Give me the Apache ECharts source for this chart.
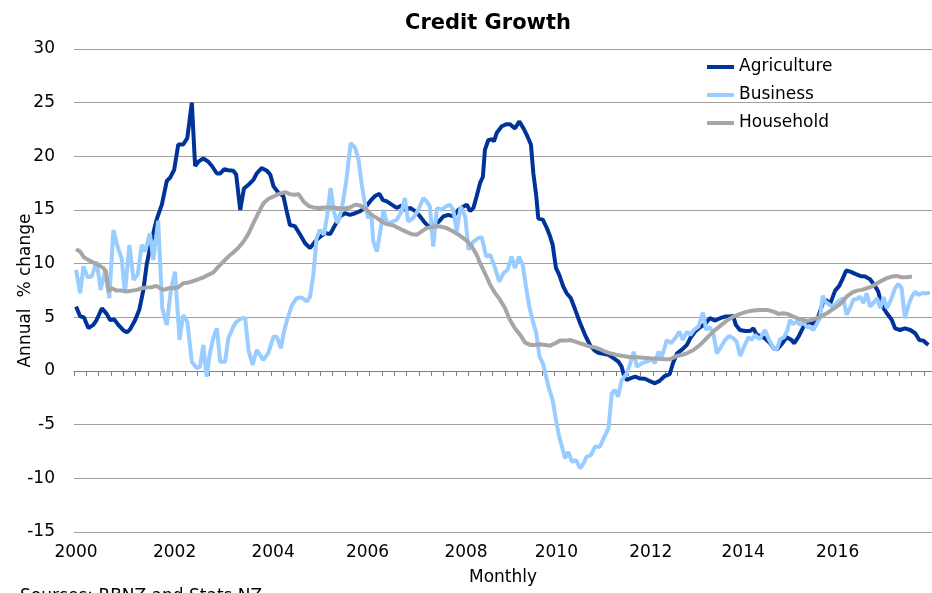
<!DOCTYPE html>
<html>
<head>
<meta charset="utf-8">
<script src="https://cdn.jsdelivr.net/npm/echarts@6/dist/echarts.min.js"></script>
<style>
html,body{margin:0;padding:0;background:#fff;}
#chart{width:932px;height:593px;}
</style>
</head>
<body>
<div id="chart"></div>
<script>
// x = months since Jan 2000 (0 = Jan 2000), y = annual % change
const yearLabels = [
  [0, '2000'], [24, '2002'], [48, '2004'], [71, '2006'], [95, '2008'],
  [117, '2010'], [140, '2012'], [162.5, '2014'], [185.5, '2016']
];
const seriesNames = ['Agriculture', 'Business', 'Household'];

const agriculture = [
[0,6.0],[1,5.1],[1.9,5.0],[3,4.0],[4.2,4.3],[5,4.75],[6.3,5.85],[7.5,5.3],[8.3,4.75],[9.3,4.8],[10.3,4.3],[11.5,3.8],[12.4,3.6],[13.2,3.9],[14.4,4.75],[15.4,5.7],[16.4,7.55],[17.2,9.9],[18.4,12.2],[19.7,14.2],[20.9,15.5],[22.1,17.7],[22.9,18.0],[23.9,18.75],[24.9,21.1],[26.1,21.1],[27.1,21.7],[28.2,25.0],[29.0,19.1],[29.8,19.5],[31.0,19.8],[32.2,19.5],[33.1,19.1],[34.3,18.4],[35.1,18.4],[36.1,18.8],[37.1,18.7],[38.3,18.65],[39.0,18.3],[40.0,15.0],[40.9,17.0],[42.0,17.35],[43.2,17.8],[44.0,18.4],[45.2,18.9],[46.5,18.65],[47.3,18.3],[48.1,17.2],[49.3,16.6],[50.5,16.3],[51.3,14.9],[52.1,13.6],[53.3,13.5],[54.6,12.7],[55.8,11.9],[57.0,11.45],[58.2,12.05],[59.4,12.5],[60.7,12.85],[61.9,12.75],[63.1,13.6],[64.3,14.4],[65.5,14.7],[66.7,14.55],[68.0,14.7],[69.2,14.9],[70.4,15.2],[71.6,15.8],[72.8,16.3],[73.9,16.5],[74.7,15.95],[75.7,15.8],[76.9,15.5],[78.1,15.2],[79.3,15.4],[80.1,15.0],[81.4,15.2],[82.6,14.9],[83.8,14.4],[85.0,13.8],[85.8,13.5],[87.0,13.6],[88.3,13.9],[89.5,14.4],[90.7,14.55],[91.9,14.4],[93.1,15.0],[94.3,15.3],[95.2,15.5],[96.0,14.9],[96.8,15.2],[97.6,16.3],[98.4,17.5],[99.1,18.1],[99.6,20.6],[100.4,21.5],[101.3,21.6],[101.8,21.4],[102.5,22.2],[103.7,22.8],[104.9,23.0],[105.7,23.0],[106.9,22.6],[108.0,23.25],[109.0,22.6],[109.9,21.9],[110.8,21.1],[111.4,18.4],[112.1,16.3],[112.6,14.2],[113.7,14.1],[114.7,13.3],[115.5,12.5],[116.1,11.75],[116.9,9.6],[117.7,8.95],[118.7,7.85],[119.5,7.25],[120.5,6.8],[121.6,5.7],[122.8,4.45],[124.0,3.35],[125.2,2.4],[126.2,1.95],[127.2,1.7],[128.5,1.6],[129.7,1.5],[130.9,1.2],[132.1,0.87],[132.9,0.4],[133.5,-0.47],[134.2,-0.84],[135.0,-0.68],[136.2,-0.53],[137.4,-0.7],[138.6,-0.72],[139.8,-0.95],[141.0,-1.15],[142.2,-0.9],[143.4,-0.47],[144.6,-0.3],[145.4,0.72],[146.4,1.65],[147.5,1.96],[148.8,2.43],[149.6,3.05],[150.8,3.67],[152.0,4.08],[153.2,4.38],[154.4,4.92],[155.7,4.7],[156.9,4.92],[158.1,5.07],[159.3,5.07],[160.1,5.13],[160.7,4.3],[161.7,3.82],[163.0,3.73],[164.2,3.73],[165.0,3.98],[165.8,3.36],[166.8,3.26],[167.8,3.05],[169.1,2.58],[169.9,2.12],[170.8,2.02],[171.9,2.52],[173.1,3.14],[174.3,2.89],[174.9,2.58],[176.0,3.2],[177.2,4.13],[178.4,4.6],[179.6,4.38],[180.8,5.07],[181.9,6.32],[182.7,6.62],[183.7,6.25],[184.9,7.49],[185.9,7.93],[186.8,8.65],[187.6,9.36],[188.6,9.26],[189.8,9.05],[191.0,8.86],[192.2,8.8],[193.4,8.55],[194.6,7.93],[195.4,7.4],[196.2,6.16],[197.5,5.38],[198.7,4.76],[199.5,3.98],[200.7,3.82],[201.9,3.98],[203.2,3.82],[204.4,3.52],[205.4,2.89],[206.4,2.83],[207.6,2.43]
];

const business = [
[0,9.42],[1.0,7.25],[1.8,9.73],[2.8,8.74],[3.8,8.8],[5.0,10.2],[6.0,7.56],[7.1,9.42],[8.1,6.78],[9.1,13.15],[10.1,11.6],[11.1,10.5],[11.9,7.25],[13.0,11.75],[14.0,8.49],[15.0,8.96],[16.0,11.75],[16.8,11.13],[18.0,12.84],[18.8,10.35],[20.0,14.0],[21.0,5.85],[22.1,4.29],[23.1,7.56],[24.1,9.26],[25.2,2.89],[26.1,5.22],[27.1,4.6],[28.2,0.87],[29.4,0.25],[30.2,0.4],[31.0,2.43],[31.8,-0.53],[32.6,1.65],[33.4,3.05],[34.3,3.98],[35.1,0.87],[36.3,0.87],[37.1,3.05],[38.3,4.13],[39.1,4.6],[40.4,4.92],[41.2,4.95],[42.0,1.96],[43.0,0.56],[44.0,1.96],[45.6,1.03],[46.8,1.65],[48.1,3.2],[48.9,3.2],[49.9,2.12],[50.6,3.6],[51.4,4.76],[52.6,6.16],[53.8,6.8],[55.0,6.84],[56.2,6.47],[57.0,6.93],[57.8,8.96],[58.6,12.38],[59.4,13.15],[60.4,12.69],[61.2,14.55],[62.0,17.04],[62.9,14.7],[63.7,13.78],[64.7,15.02],[65.8,17.66],[66.9,21.24],[68.0,20.77],[68.8,19.68],[69.6,17.35],[70.4,15.49],[71.2,14.24],[71.9,14.7],[72.4,12.06],[73.3,11.13],[74.1,13.0],[74.9,15.02],[75.7,13.78],[76.9,13.87],[78.1,14.09],[79.3,14.86],[80.1,16.11],[80.9,13.93],[82.1,14.24],[83.4,15.02],[84.6,16.11],[85.4,15.8],[86.2,15.33],[87.0,11.6],[87.9,15.18],[89.1,15.02],[90.1,15.33],[91.1,15.49],[91.9,15.02],[92.7,13.0],[93.7,15.33],[94.8,14.39],[95.6,11.29],[96.8,12.06],[98.0,12.38],[98.8,12.47],[99.9,10.66],[100.9,10.82],[101.8,9.89],[103.1,8.33],[104.1,9.11],[105.1,9.42],[106.1,10.66],[106.9,9.58],[107.9,10.66],[108.8,9.89],[109.6,7.86],[110.4,6.0],[111.3,4.6],[112.1,3.52],[112.9,1.33],[113.7,0.72],[114.5,-0.53],[115.3,-1.77],[116.1,-2.7],[116.9,-4.57],[117.7,-6.13],[118.6,-7.37],[119.1,-8.14],[119.9,-7.53],[120.8,-8.46],[121.8,-8.3],[122.8,-9.08],[123.6,-8.61],[124.4,-7.99],[125.4,-7.84],[126.4,-7.06],[127.6,-7.06],[128.5,-6.28],[129.7,-5.35],[130.5,-2.08],[131.3,-1.77],[132.0,-2.4],[132.9,-0.84],[134.2,-0.22],[135.0,0.72],[135.8,1.8],[136.6,0.4],[137.8,0.72],[139.0,0.87],[140.2,1.1],[141.0,0.72],[141.9,1.8],[142.7,1.3],[143.9,2.89],[144.9,2.58],[145.9,3.05],[147.0,3.67],[147.8,2.89],[148.8,3.67],[149.6,3.36],[150.5,3.82],[151.6,4.13],[152.7,5.44],[153.5,3.82],[154.4,4.08],[155.3,3.36],[156.1,1.65],[156.9,2.12],[158.1,2.89],[159.1,3.26],[160.1,3.05],[160.9,2.74],[161.8,1.4],[162.7,2.27],[163.8,3.14],[164.6,2.89],[165.4,3.36],[166.5,2.96],[167.8,3.82],[168.9,2.83],[169.9,2.12],[170.7,2.02],[171.5,2.96],[172.5,3.14],[173.3,3.82],[173.9,4.76],[174.7,4.38],[175.6,4.6],[176.4,4.29],[177.2,4.5],[178.0,4.13],[178.8,4.08],[179.6,3.82],[180.4,4.38],[181.2,4.92],[181.9,7.0],[182.5,6.47],[183.3,6.25],[184.3,5.94],[185.3,6.37],[186.1,6.62],[186.9,6.78],[187.7,5.22],[188.5,5.85],[189.4,6.69],[190.2,6.69],[191.0,6.93],[191.8,6.32],[192.6,7.25],[193.4,6.0],[194.2,6.32],[195.1,6.78],[195.9,5.85],[196.7,6.88],[197.5,5.85],[198.5,6.62],[199.5,7.71],[200.3,8.12],[201.1,7.71],[201.9,4.92],[202.8,6.16],[203.6,6.93],[204.4,7.4],[205.2,7.09],[206.0,7.25],[207.2,7.25],[208.0,7.3]
];

const household = [
[0,11.35],[1.0,11.13],[1.9,10.6],[3.0,10.35],[4.2,10.1],[5.4,9.89],[6.7,9.58],[7.3,9.26],[7.9,7.4],[8.7,7.71],[9.9,7.49],[11.1,7.49],[12.4,7.4],[13.6,7.49],[14.8,7.56],[16.0,7.71],[17.2,7.77],[18.4,7.8],[19.5,7.93],[20.5,7.71],[21.4,7.56],[22.5,7.71],[23.7,7.71],[24.9,7.8],[26.1,8.18],[27.4,8.24],[28.6,8.4],[29.8,8.55],[31.0,8.71],[32.2,8.96],[33.4,9.17],[34.7,9.73],[35.9,10.2],[37.1,10.66],[38.3,11.04],[39.5,11.45],[40.8,12.06],[42.0,12.8],[43.2,13.78],[44.4,14.7],[45.6,15.6],[46.8,16.02],[48.1,16.26],[49.3,16.48],[50.9,16.67],[52.1,16.48],[53.3,16.42],[54.2,16.48],[55.4,15.8],[56.6,15.39],[57.8,15.24],[59.4,15.18],[60.7,15.24],[61.9,15.24],[63.5,15.18],[65.1,15.11],[66.7,15.24],[68.0,15.49],[69.2,15.42],[70.8,15.02],[72.0,14.55],[73.3,14.24],[74.5,13.93],[75.7,13.68],[77.3,13.55],[78.9,13.25],[80.6,12.94],[81.8,12.75],[83.0,12.69],[84.2,13.0],[85.4,13.31],[87.0,13.46],[88.7,13.46],[90.3,13.31],[91.9,13.0],[93.5,12.62],[95.2,12.13],[96.4,11.6],[97.6,10.82],[98.4,10.05],[99.6,9.11],[100.9,8.02],[102.1,7.25],[103.3,6.62],[104.5,5.85],[105.7,4.76],[106.9,3.98],[108.2,3.36],[109.4,2.64],[110.6,2.43],[111.8,2.43],[113.0,2.49],[114.3,2.43],[115.5,2.36],[116.7,2.58],[117.9,2.83],[119.1,2.83],[120.3,2.89],[121.6,2.74],[122.8,2.58],[124.0,2.43],[125.2,2.27],[126.4,2.2],[127.7,2.02],[128.9,1.8],[130.1,1.65],[131.7,1.49],[133.3,1.4],[135.0,1.28],[136.6,1.28],[138.2,1.24],[139.8,1.18],[141.5,1.15],[143.1,1.1],[144.7,1.1],[146.3,1.4],[147.5,1.49],[148.8,1.65],[150.4,1.96],[152.0,2.43],[153.6,3.05],[155.2,3.67],[156.9,4.2],[158.5,4.69],[160.1,5.07],[161.8,5.32],[163.4,5.53],[165.0,5.63],[166.6,5.69],[168.3,5.69],[169.9,5.53],[171.1,5.32],[172.3,5.38],[173.5,5.29],[174.7,5.07],[176.4,4.82],[178.0,4.66],[179.2,4.76],[180.4,4.92],[181.7,5.13],[182.9,5.38],[184.1,5.69],[185.3,6.0],[186.5,6.37],[187.7,6.93],[189.0,7.3],[190.2,7.49],[191.4,7.56],[192.6,7.71],[193.8,7.86],[195.1,8.18],[196.3,8.42],[197.5,8.65],[198.7,8.8],[199.9,8.86],[201.1,8.74],[202.3,8.74],[203.6,8.8]
];

const seriesColors = ['#003399', '#99CCFF', '#A6A6A6'];
const FONT = 'DejaVu Sans';
const OFFSET = 0.5; // each month sits in the middle of its slot
const shift = arr => arr.map(p => [p[0] + OFFSET, p[1]]);
const labelMap = {};
yearLabels.forEach(([m, t]) => { labelMap[(m + OFFSET).toFixed(1)] = t; });

const chart = echarts.init(document.getElementById('chart'), null, {renderer: 'canvas'});
chart.setOption({
  animation: false,
  backgroundColor: '#fff',
  title: {
    text: 'Credit Growth',
    left: 400, top: 8,
    textStyle: {fontFamily: FONT, fontSize: 21, fontWeight: 'bold', color: '#000'}
  },
  legend: {
    orient: 'vertical',
    left: 702, top: 52,
    icon: 'rect',
    itemWidth: 27, itemHeight: 4, itemGap: 8,
    data: seriesNames,
    textStyle: {fontFamily: FONT, fontSize: 17, color: '#000', lineHeight: 20}
  },
  grid: {left: 74, right: 0, top: 49, bottom: 61, containLabel: false, outerBoundsMode: 'none'},
  xAxis: [
    {
      type: 'value', min: 0, max: 209, interval: 3,
      position: 'bottom',
      axisLine: {show: true, onZero: true, lineStyle: {color: '#7F7F7F', width: 1}},
      axisTick: {show: true, inside: false, length: 5, lineStyle: {color: '#7F7F7F', width: 1}},
      axisLabel: {show: false},
      splitLine: {show: false}
    },
    {
      type: 'value', min: 0, max: 209, interval: 0.5,
      position: 'bottom',
      axisLine: {show: false, onZero: false},
      axisTick: {show: false},
      splitLine: {show: false},
      axisLabel: {
        show: true, margin: 12,
        fontFamily: FONT, fontSize: 17, color: '#000',
        formatter: v => labelMap[(Math.round(v * 2) / 2).toFixed(1)] || ''
      },
      name: 'Monthly', nameLocation: 'middle', nameGap: 37, nameMoveOverlap: false,
      nameTextStyle: {fontFamily: FONT, fontSize: 17, color: '#000'}
    }
  ],
  yAxis: {
    type: 'value', min: -15, max: 30, interval: 5,
    axisLine: {show: false},
    axisTick: {show: false},
    axisLabel: {margin: 19, fontFamily: FONT, fontSize: 17, color: '#000'},
    splitLine: {show: true, lineStyle: {color: '#A0A0A0', width: 1}},
    name: 'Annual  % change', nameLocation: 'middle', nameGap: 40, nameRotate: 90, nameMoveOverlap: false,
    nameTextStyle: {fontFamily: FONT, fontSize: 17, color: '#000'}
  },
  graphic: [{
    type: 'text', left: 20, top: 588,
    style: {text: 'Sources: RBNZ and Stats NZ', font: '17px "DejaVu Sans"', fill: '#000'}
  }],
  series: [
    {name: seriesNames[0], type: 'line', xAxisIndex: 0, data: shift(agriculture), showSymbol: false, symbol: 'none',
     lineStyle: {width: 4, color: seriesColors[0]}, itemStyle: {color: seriesColors[0]}},
    {name: seriesNames[1], type: 'line', xAxisIndex: 0, data: shift(business), showSymbol: false, symbol: 'none',
     lineStyle: {width: 4, color: seriesColors[1]}, itemStyle: {color: seriesColors[1]}},
    {name: seriesNames[2], type: 'line', xAxisIndex: 0, data: shift(household), showSymbol: false, symbol: 'none',
     lineStyle: {width: 4, color: seriesColors[2]}, itemStyle: {color: seriesColors[2]}}
  ]
});
</script>
</body>
</html>
